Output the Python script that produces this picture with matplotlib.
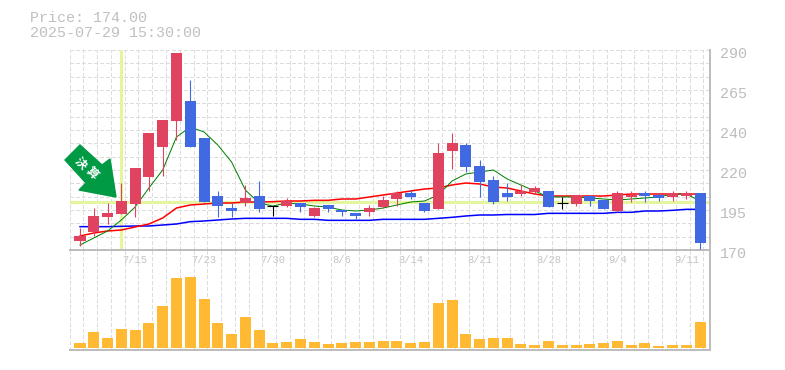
import matplotlib
matplotlib.use("Agg")
from matplotlib import pyplot as plt
from matplotlib.patches import Polygon
from matplotlib.transforms import IdentityTransform, ScaledTranslation
import numpy as np

W, H = 785, 370

# candle values
opens = [175.6, 180.8, 189.8, 191.6, 197.6, 213.8, 231.8, 247.4, 259.4, 237.2, 202.4, 195.2, 198.2, 202.4, 196.4, 196.4,
         198.2, 190.4, 197.0, 194.0, 192.2, 192.8, 195.8, 200.6, 204.2, 198.2, 194.6, 229.4, 233.0, 220.4, 212.0, 204.2,
         203.6, 204.8, 205.4, 198.2, 197.6, 202.4, 200.0, 193.4, 201.8, 204.2, 203.0, 201.8, 202.4, 204.2]
closes = [178.4, 190.4, 192.2, 199.4, 219.2, 240.2, 248.0, 288.2, 231.8, 198.8, 196.4, 193.4, 201.2, 194.6, 196.4, 199.4,
          195.8, 195.2, 194.6, 192.8, 190.4, 195.2, 200.0, 204.2, 201.8, 193.4, 228.2, 234.2, 219.8, 210.8, 198.8, 201.8,
          205.4, 207.2, 195.8, 198.2, 203.0, 199.4, 194.6, 204.2, 203.0, 202.4, 201.2, 204.2, 204.2, 174.0]
highs = [183.4, 195.2, 198.2, 210.2, 219.2, 240.2, 248.0, 288.2, 272.0, 237.2, 205.4, 198.2, 209.0, 211.4, 196.4, 201.2,
         198.2, 195.8, 197.0, 194.0, 192.2, 197.0, 202.4, 205.4, 206.0, 198.2, 234.2, 240.2, 234.2, 224.0, 214.4, 210.2,
         209.0, 208.4, 205.4, 201.8, 203.0, 203.0, 200.0, 205.4, 205.4, 205.4, 204.2, 205.4, 205.4, 204.2]
lows = [172.6, 178.4, 185.6, 191.6, 189.8, 205.4, 214.4, 236.0, 231.8, 198.8, 189.8, 189.8, 196.4, 192.8, 190.4, 195.8,
        192.8, 189.8, 192.8, 190.4, 188.6, 190.4, 195.2, 196.4, 200.6, 192.8, 194.6, 218.6, 216.8, 201.8, 197.6, 199.4,
        202.4, 203.6, 195.8, 194.6, 196.4, 196.4, 194.6, 192.8, 198.8, 198.8, 199.4, 199.4, 200.6, 170.6]

ma_short = [173.0, 177.2, 181.4, 188.0, 195.8, 207.2, 218.0, 237.8, 243.8, 240.8, 233.0, 222.8, 206.0, 198.2, 196.4, 198.2,
            197.6, 196.4, 195.8, 194.0, 193.4, 194.0, 195.2, 197.0, 198.8, 199.4, 203.0, 211.4, 215.6, 216.8, 218.0, 212.6,
            209.0, 205.4, 201.8, 201.8, 201.8, 201.2, 200.6, 200.0, 200.6, 201.2, 201.8, 203.6, 203.6, 199.4]
ma_mid = [178.4, 180.2, 181.4, 182.0, 183.8, 185.6, 189.2, 195.2, 197.0, 197.6, 198.2, 198.2, 198.8, 198.8, 199.0, 199.4,
          199.4, 199.8, 199.8, 200.6, 200.6, 201.8, 203.0, 204.2, 205.4, 206.6, 207.2, 209.0, 210.2, 209.6, 207.8, 207.2,
          205.4, 203.6, 202.4, 202.4, 202.4, 202.4, 202.4, 203.0, 203.6, 203.6, 203.6, 203.6, 203.6, 203.6]
ma_long = [184.0, 184.0, 184.0, 184.2, 184.4, 184.4, 185.0, 185.6, 187.0, 187.4, 188.0, 188.6, 189.0, 189.0, 189.0, 189.0,
           188.4, 188.4, 187.8, 187.8, 187.8, 187.8, 188.4, 188.4, 188.4, 188.4, 189.0, 189.6, 190.4, 191.0, 191.0, 191.3,
           191.3, 191.3, 192.0, 192.0, 192.0, 192.0, 192.0, 192.6, 192.6, 193.4, 193.4, 193.8, 194.4, 194.4]

volume = [15, 48, 30, 57, 54, 75, 126, 210, 213, 147, 75, 42, 93, 54, 15, 18, 27, 18, 12, 15, 18, 18, 21,
          21, 15, 18, 135, 144, 42, 27, 30, 30, 12, 9, 21, 9, 9, 12, 15, 21, 9, 15, 6, 9, 9, 78]

price_ticks = [170, 194, 218, 242, 266, 290]
price_labels = ["170", "195", "220", "240", "265", "290"]
date_pos = [4, 9, 14, 19, 24, 29, 34, 39, 44]
date_labels = ["7/15", "7/23", "7/30", "8/6", "8/14", "8/21", "8/28", "9/4", "9/11"]
pick_index = 3
pick_price = 199

RED = "#e04360"
BLUE = "#4169e1"
GRAY = "#bdbdbd"
GRID = "#dcdcdc"
MARK = "#e4f5a0"
DASH = (0, (3.5, 2.5))

plt.rcParams["font.family"] = "Liberation Mono"

fig = plt.figure(figsize=(W / 100, H / 100), dpi=100)
ax = fig.add_axes([70 / W, 1 - 250 / H, 640 / W, 200 / H])
vax = fig.add_axes([70 / W, 1 - 350 / H, 640 / W, 100 / H])

x = np.arange(len(opens))
o = np.array(opens)
c = np.array(closes)
up = c > o
down = c < o
flat = c == o

grid_x = np.concatenate([[-0.726], x + 0.24])
grid_y = np.arange(170, 291, 8)

for a in (ax, vax):
    a.set_xlim(-0.726, 45.72)
    a.set_facecolor("none")
    a.spines["top"].set_visible(False)
    a.spines["left"].set_visible(False)
    a.spines["right"].set_color(GRAY)
    a.spines["bottom"].set_color(GRAY)
    a.spines["right"].set_linewidth(1.44)
    a.spines["bottom"].set_linewidth(1.44)
    a.vlines(grid_x, 0, 1, color=GRID, lw=0.72, linestyles=DASH, antialiased=False,
             transform=a.get_xaxis_transform(), zorder=1, clip_on=False)

ax.set_ylim(170, 290)
ax.hlines(grid_y, -0.726, 45.72, color=GRID, lw=0.72, linestyles=DASH, antialiased=False, zorder=1, clip_on=False)

# picked date and price
ax.axhline(pick_price, color=MARK, lw=2.3, zorder=2)
ax.axvline(pick_index, ymin=0.005, color=MARK, lw=2.3, zorder=2)

ax.plot(x, ma_long, color="#0000ff", lw=1.1, zorder=3)
ax.plot(x, ma_mid, color="#ff0000", lw=1.1, zorder=3)
ax.plot(x, ma_short, color="#008000", lw=0.72, zorder=3)

ax.vlines(x[up], np.array(lows)[up], np.array(highs)[up], color=RED, lw=0.8, zorder=4)
ax.vlines(x[down], np.array(lows)[down], np.array(highs)[down], color=BLUE, lw=0.8, zorder=4)
ax.vlines(x[flat], np.array(lows)[flat], np.array(highs)[flat], color="black", lw=0.8, zorder=4)
ax.bar(x[up], (c - o)[up], bottom=o[up], width=0.8, color=RED, zorder=5)
ax.bar(x[down], (o - c)[down], bottom=c[down], width=0.8, color=BLUE, zorder=5)
ax.hlines(c[flat], x[flat] - 0.4, x[flat] + 0.4, color="black", lw=0.8, zorder=5)

ax.set_xticks(date_pos)
ax.set_xticklabels(date_labels, fontsize=7.6, color="#c4c4c4")
ax.set_yticks(price_ticks)
ax.set_yticklabels(price_labels, fontsize=10.8, color=GRAY)
ax.yaxis.tick_right()
ax.tick_params(axis="both", length=0)
ax.tick_params(axis="x", pad=3.5)
ax.tick_params(axis="y", pad=7)
shift = ScaledTranslation(0, -3 / 100, fig.dpi_scale_trans)
for lab in ax.get_yticklabels():
    lab.set_transform(lab.get_transform() + shift)

vax.set_ylim(-6, 294)
vax.bar(x, volume, width=0.8, color="#ffb933", zorder=3)
vax.set_xticks([])
vax.set_yticks([])

fig.text(30 / W, 1 - 18 / H, "Price: 174.00", fontsize=10.8, color="#c0c0c0", va="center")
fig.text(30 / W, 1 - 33 / H, "2025-07-29 15:30:00", fontsize=10.8, color="#c0c0c0", va="center")

# signal arrow, drawn in pixels from the top left
arrow_px = [(80, 145), (65, 160), (86, 183), (79, 190), (116, 197), (110, 159), (102, 165)]
fig.add_artist(Polygon([(px, H - py) for px, py in arrow_px], closed=True, color="#009944",
                       transform=IdentityTransform(), zorder=6))
for ch, px, py in [("決", 81, 163), ("算", 92.3, 173.3)]:
    fig.text(px / W, 1 - py / H, ch, family="Noto Sans CJK JP", weight="bold", fontsize=8.6, color="white",
             rotation=-45, ha="center", va="center", rotation_mode="anchor", zorder=7)

fig.savefig("out.png", dpi=100)
